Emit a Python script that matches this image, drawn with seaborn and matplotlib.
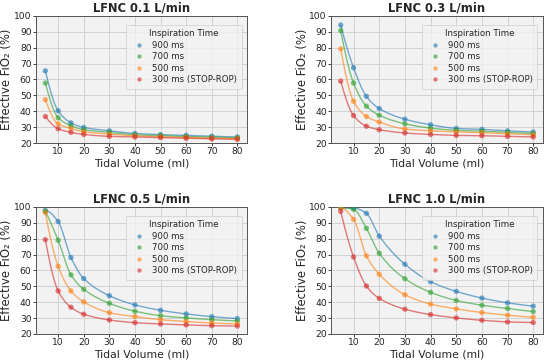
import numpy as np
import pandas as pd
import matplotlib
matplotlib.use("Agg")
import matplotlib.pyplot as plt
import seaborn as sns

# ---------------- data ----------------
tidal_volume = [5, 10, 15, 20, 30, 40, 50, 60, 70, 80]
insp_times = ["900 ms", "700 ms", "500 ms", "300 ms (STOP-ROP)"]
panel_titles = ["LFNC 0.1 L/min", "LFNC 0.3 L/min", "LFNC 0.5 L/min", "LFNC 1.0 L/min"]

lfnc01_900 = [65.5, 40.3, 32.7, 29.8, 27.7, 26.0, 25.3, 24.8, 24.3, 23.8]
lfnc01_700 = [57.8, 35.9, 30.9, 28.4, 26.7, 25.2, 24.6, 24.1, 23.7, 23.3]
lfnc01_500 = [47.3, 32.0, 29.2, 27.1, 25.6, 24.5, 24.0, 23.5, 23.1, 22.8]
lfnc01_300 = [36.7, 29.0, 26.7, 25.4, 24.2, 23.8, 23.4, 23.0, 22.6, 22.3]

lfnc03_900 = [94.3, 67.4, 49.4, 41.7, 35.0, 31.5, 29.2, 28.6, 27.7, 26.9]
lfnc03_700 = [90.8, 57.8, 43.2, 37.5, 32.1, 29.4, 28.0, 27.5, 26.7, 26.0]
lfnc03_500 = [79.3, 46.3, 36.7, 33.2, 28.8, 27.7, 27.0, 26.5, 25.8, 25.2]
lfnc03_300 = [59.0, 37.3, 30.6, 28.4, 26.3, 25.4, 24.8, 24.6, 24.2, 23.8]

lfnc05_900 = [97.7, 90.8, 68.1, 54.9, 44.1, 38.3, 34.9, 32.6, 30.9, 29.7]
lfnc05_700 = [97.3, 79.0, 57.2, 48.1, 39.3, 34.3, 31.5, 30.1, 29.0, 28.2]
lfnc05_500 = [96.4, 62.6, 47.1, 40.2, 33.4, 30.9, 29.0, 27.8, 26.9, 26.3]
lfnc05_300 = [79.4, 47.1, 36.8, 32.4, 28.8, 27.1, 26.3, 25.7, 25.2, 25.0]

lfnc10_900 = [99.5, 99.3, 96.0, 81.6, 63.9, 52.9, 46.8, 42.6, 39.6, 37.5]
lfnc10_700 = [99.5, 98.5, 86.5, 70.8, 54.8, 46.2, 41.1, 38.1, 36.0, 34.1]
lfnc10_500 = [99.3, 92.2, 69.2, 57.6, 44.7, 38.8, 35.8, 33.5, 31.8, 30.5]
lfnc10_300 = [97.2, 68.5, 50.2, 42.4, 35.6, 32.2, 30.1, 28.6, 27.6, 27.2]

panel_series = [
    [lfnc01_900, lfnc01_700, lfnc01_500, lfnc01_300],
    [lfnc03_900, lfnc03_700, lfnc03_500, lfnc03_300],
    [lfnc05_900, lfnc05_700, lfnc05_500, lfnc05_300],
    [lfnc10_900, lfnc10_700, lfnc10_500, lfnc10_300],
]

colors = ["#1f77b4", "#2ca02c", "#ff7f0e", "#d62728"]


# smooth monotone (PCHIP) curve through the measured points
def pchip(x, y, xn):
    x = np.asarray(x, float)
    y = np.asarray(y, float)
    h = np.diff(x)
    d = np.diff(y) / h
    n = len(x)
    m = np.zeros(n)
    for k in range(1, n - 1):
        if d[k - 1] * d[k] <= 0:
            m[k] = 0.0
        else:
            w1 = 2 * h[k] + h[k - 1]
            w2 = h[k] + 2 * h[k - 1]
            m[k] = (w1 + w2) / (w1 / d[k - 1] + w2 / d[k])

    def end(h0, h1, d0, d1):
        s = ((2 * h0 + h1) * d0 - h0 * d1) / (h0 + h1)
        if np.sign(s) != np.sign(d0):
            s = 0.0
        elif np.sign(d0) != np.sign(d1) and abs(s) > abs(3 * d0):
            s = 3 * d0
        return s

    m[0] = end(h[0], h[1], d[0], d[1])
    m[-1] = end(h[-1], h[-2], d[-1], d[-2])
    idx = np.clip(np.searchsorted(x, xn) - 1, 0, n - 2)
    t = (xn - x[idx]) / h[idx]
    h00 = 2 * t**3 - 3 * t**2 + 1
    h10 = t**3 - 2 * t**2 + t
    h01 = -2 * t**3 + 3 * t**2
    h11 = t**3 - t**2
    return h00 * y[idx] + h10 * h[idx] * m[idx] + h01 * y[idx + 1] + h11 * h[idx] * m[idx + 1]


sns.set_style("whitegrid", {
    "axes.facecolor": "#f2f2f2",
    "grid.color": "#d2d2d2",
    "axes.edgecolor": "#555555",
    "xtick.bottom": True,
    "ytick.left": True,
})
plt.rcParams["font.family"] = ["DejaVu Sans"]

fig = plt.figure(figsize=(5.5, 3.63), dpi=100)
positions = [
    [0.065, 0.606, 0.384, 0.350],
    [0.602, 0.606, 0.385, 0.350],
    [0.065, 0.080, 0.384, 0.350],
    [0.602, 0.080, 0.385, 0.350],
]

xs = np.linspace(min(tidal_volume), max(tidal_volume), 300)

for p in range(4):
    ax = fig.add_axes(positions[p])
    pts = []
    curves = []
    for s, name in enumerate(insp_times):
        vals = panel_series[p][s]
        for xv, yv in zip(tidal_volume, vals):
            pts.append({"Tidal Volume (ml)": xv, "FiO2": yv, "Inspiration Time": name})
        ys = pchip(tidal_volume, vals, xs)
        for xv, yv in zip(xs, ys):
            curves.append({"x": xv, "y": yv, "Inspiration Time": name})
    dpts = pd.DataFrame(pts)
    dcur = pd.DataFrame(curves)
    sns.lineplot(data=dcur, x="x", y="y", hue="Inspiration Time", palette=colors,
                 hue_order=insp_times, ax=ax, linewidth=1.0, alpha=0.6, legend=False)
    sns.scatterplot(data=dpts, x="Tidal Volume (ml)", y="FiO2", hue="Inspiration Time",
                    palette=colors, hue_order=insp_times, ax=ax, s=15, alpha=0.6,
                    edgecolor="none", zorder=3)
    ax.set_xlim(1.25, 83.75)
    ax.set_ylim(20, 100)
    ax.set_xticks([10, 20, 30, 40, 50, 60, 70, 80])
    ax.set_yticks(range(20, 101, 10))
    ax.tick_params(labelsize=6.6, length=2, width=0.6, pad=1, colors="#222222")
    ax.set_xlabel("Tidal Volume (ml)", fontsize=7.8, labelpad=1.5)
    ax.set_ylabel("Effective FiO₂ (%)", fontsize=8.4, labelpad=0.5)
    ax.set_title(panel_titles[p], fontsize=8.3, fontweight="bold", pad=3)
    ax.grid(True, linewidth=0.7)
    for sp in ax.spines.values():
        sp.set_linewidth(0.7)
    leg = ax.legend(title="Inspiration Time", loc="upper right", fontsize=6.2,
                    title_fontsize=6.2, frameon=True, labelspacing=0.3,
                    handletextpad=0.6, borderpad=0.5, markerscale=0.8,
                    bbox_to_anchor=(0.995, 0.965))
    leg.get_frame().set_edgecolor("#cccccc")
    leg.get_frame().set_linewidth(0.6)

fig.savefig("out.png", dpi=100)
